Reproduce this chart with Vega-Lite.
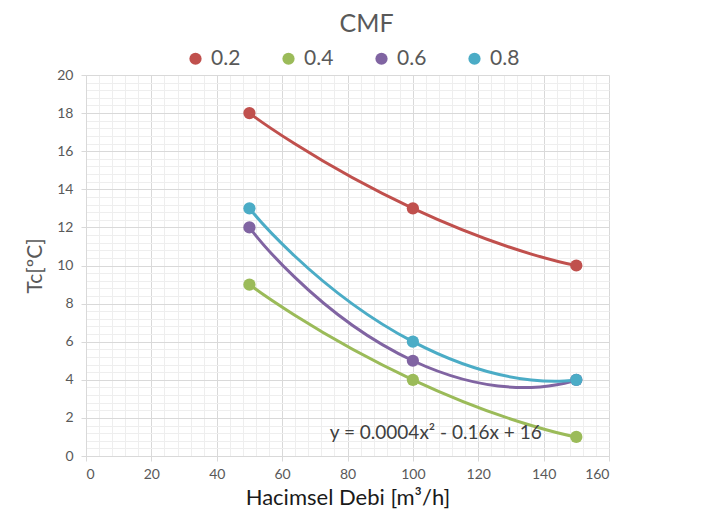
{
  "$schema": "https://vega.github.io/schema/vega-lite/v6.json",
  "width": 523,
  "height": 381,
  "autosize": {"type": "none"},
  "padding": {"left": 86, "top": 75, "right": 118, "bottom": 76},
  "background": "white",
  "title": {"text": "CMF", "fontSize": 25, "font": "Lato", "fontWeight": "normal", "color": "#595959", "anchor": "middle", "dx": 19, "offset": 11},
  "config": {"view": {"stroke": null}, "font": "Lato"},
  "datasets": {
    "series": [
      {"debi": 50, "tc": 18, "cmf": "0.2"},
      {"debi": 100, "tc": 13, "cmf": "0.2"},
      {"debi": 150, "tc": 10, "cmf": "0.2"},
      {"debi": 50, "tc": 9, "cmf": "0.4"},
      {"debi": 100, "tc": 4, "cmf": "0.4"},
      {"debi": 150, "tc": 1, "cmf": "0.4"},
      {"debi": 50, "tc": 12, "cmf": "0.6"},
      {"debi": 100, "tc": 5, "cmf": "0.6"},
      {"debi": 150, "tc": 4, "cmf": "0.6"},
      {"debi": 50, "tc": 13, "cmf": "0.8"},
      {"debi": 100, "tc": 6, "cmf": "0.8"},
      {"debi": 150, "tc": 4, "cmf": "0.8"}
    ],
    "eq": [
      {"x": 107, "y": 1.2, "label": "y = 0.0004x² - 0.16x + 16"}
    ]
  },
  "layer": [
    {
      "data": {"name": "series"},
      "mark": {"type": "line", "interpolate": "cardinal", "tension": -0.8, "strokeWidth": 3},
      "encoding": {
        "x": {
          "field": "debi", "type": "quantitative",
          "scale": {"domain": [0, 160], "nice": false, "zero": false},
          "axis": {
            "values": [0,4,8,12,16,20,24,28,32,36,40,44,48,52,56,60,64,68,72,76,80,84,88,92,96,100,104,108,112,116,120,124,128,132,136,140,144,148,152,156,160],
            "tickCount": 500,
            "labelExpr": "datum.value % 20 === 0 ? '' + datum.value : ''",
            "labelOverlap": false,
            "grid": true,
            "gridColor": {"condition": {"test": "datum.value % 20 === 0", "value": "#d9d9d9"}, "value": "#eeeeee"},
            "gridWidth": 1,
            "tickOpacity": {"condition": {"test": "datum.value % 20 === 0", "value": 1}, "value": 0},
            "tickSize": 5,
            "tickColor": "#d9d9d9",
            "domainColor": "#d9d9d9",
            "labelColor": "#595959",
            "labelFontSize": 14,
            "labelPadding": 6,
            "labelFont": "Lato",
            "title": "Hacimsel Debi  [m³/h]",
            "titleFont": "Lato",
            "titleFontSize": 22,
            "titleFontWeight": "normal",
            "titleColor": "#1a1a1a",
            "titlePadding": 6
          }
        },
        "y": {
          "field": "tc", "type": "quantitative",
          "scale": {"domain": [0, 20], "nice": false},
          "axis": {
            "values": [0,0.4,0.8,1.2,1.6,2,2.4,2.8,3.2,3.6,4,4.4,4.8,5.2,5.6,6,6.4,6.8,7.2,7.6,8,8.4,8.8,9.2,9.6,10,10.4,10.8,11.2,11.6,12,12.4,12.8,13.2,13.6,14,14.4,14.8,15.2,15.6,16,16.4,16.8,17.2,17.6,18,18.4,18.8,19.2,19.6,20],
            "tickCount": 500,
            "labelExpr": "abs(datum.value/2 - round(datum.value/2)) < 0.001 ? '' + round(datum.value) : ''",
            "labelOverlap": false,
            "grid": true,
            "gridColor": {"condition": {"test": "abs(datum.value/2 - round(datum.value/2)) < 0.001", "value": "#d9d9d9"}, "value": "#eeeeee"},
            "gridWidth": 1,
            "tickOpacity": {"condition": {"test": "abs(datum.value/2 - round(datum.value/2)) < 0.001", "value": 1}, "value": 0},
            "tickSize": 5,
            "tickColor": "#d9d9d9",
            "domainColor": "#d9d9d9",
            "labelColor": "#595959",
            "labelFontSize": 14,
            "labelPadding": 8,
            "labelFont": "Lato",
            "title": "Tc[ºC]",
            "titleFont": "Lato",
            "titleFontSize": 21,
            "titleFontWeight": "normal",
            "titleColor": "#595959",
            "titlePadding": 11
          }
        },
        "color": {
          "field": "cmf", "type": "nominal",
          "scale": {"domain": ["0.2", "0.4", "0.6", "0.8"], "range": ["#C0504D", "#9BBB59", "#8064A2", "#4BACC6"]},
          "legend": {
            "orient": "none", "legendX": 99, "legendY": -27, "direction": "horizontal",
            "title": null, "symbolType": "circle", "symbolSize": 150, "symbolStrokeWidth": 0,
            "labelFontSize": 21, "labelColor": "#595959", "labelFont": "Lato",
            "labelOffset": 5, "columnPadding": 37
          }
        }
      }
    },
    {
      "data": {"name": "series"},
      "mark": {"type": "circle", "size": 150, "opacity": 1},
      "encoding": {
        "x": {"field": "debi", "type": "quantitative"},
        "y": {"field": "tc", "type": "quantitative"},
        "color": {"field": "cmf", "type": "nominal"}
      }
    },
    {
      "data": {"name": "eq"},
      "mark": {"type": "text", "fontSize": 19, "color": "#404040", "font": "Lato"},
      "encoding": {
        "x": {"field": "x", "type": "quantitative"},
        "y": {"field": "y", "type": "quantitative"},
        "text": {"field": "label"}
      }
    }
  ]
}
